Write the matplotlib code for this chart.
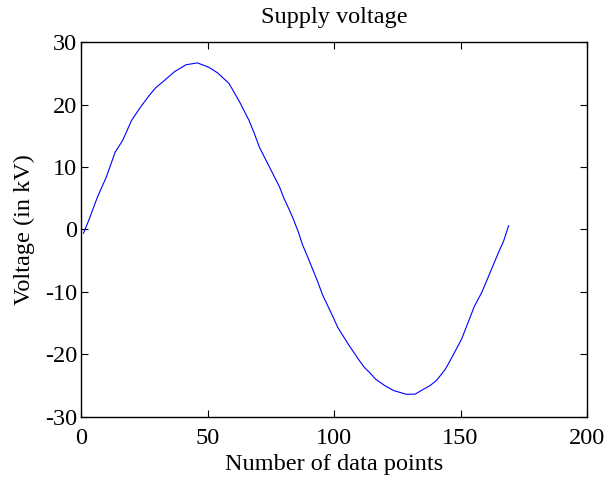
import matplotlib
matplotlib.use('Agg')
import matplotlib.pyplot as plt

# sample index and measured supply voltage (kV)
muestra = [1, 3, 6.5, 10, 13.5, 16.5, 20, 23.5, 27, 29.5, 33, 37, 41.5, 46,
           50.5, 54, 58.5, 60.5, 63, 64.5, 66.5, 68.5, 70.5, 72.5, 74.5, 76.5,
           78.5, 80, 82.5, 84, 86, 87.5, 89.5, 91.5, 93.5, 95.5, 97.5, 99.5,
           101.5, 103.5, 106, 108, 110, 112, 114, 116.5, 120, 123.5, 128.5,
           132, 134.5, 138, 140.5, 144, 147, 150.5, 153, 155.5, 158.5, 161.5,
           165, 167, 169]
voltaje = [-0.6, 1.4, 5.2, 8.4, 12.4, 14.3, 17.5, 19.6, 21.5, 22.7, 23.9, 25.3,
           26.4, 26.7, 26.0, 25.1, 23.4, 22.0, 20.2, 19.0, 17.4, 15.4, 13.2,
           11.6, 10.0, 8.4, 6.8, 5.2, 3.0, 1.6, -0.5, -2.4, -4.3, -6.3, -8.3,
           -10.5, -12.2, -13.9, -15.7, -17.0, -18.6, -19.8, -21.0, -22.1, -22.9,
           -24.0, -25.0, -25.8, -26.4, -26.4, -25.8, -25.0, -24.2, -22.4, -20.2,
           -17.5, -14.9, -12.3, -10.0, -7.1, -3.7, -1.9, 0.6]

xticks = [0, 50, 100, 150, 200]
yticks = [-30, -20, -10, 0, 10, 20, 30]

plt.rcParams['font.family'] = ['Liberation Serif', 'DejaVu Serif']
plt.rcParams['axes.unicode_minus'] = False

fig = plt.figure(figsize=(6.1, 4.8), dpi=100)
ax = fig.add_axes([81 / 610, 1 - 416.7 / 480, 506 / 610, 374.4 / 480])
ax.plot(muestra, voltaje, color='#0000ff', linewidth=0.8)

ax.set_xlim(0, 200)
ax.set_ylim(-30, 30)
ax.set_xticks(xticks)
ax.set_yticks(yticks)
ax.tick_params(direction='in', length=5, width=0.8, top=True, right=True,
               labelsize=17.5)
ax.tick_params(axis='x', pad=8)
ax.tick_params(axis='y', pad=2.7)
for s in ax.spines.values():
    s.set_linewidth(1.0)

ax.set_title('Supply voltage', fontsize=17.5, pad=14)
ax.set_xlabel('Number of data points', fontsize=17.5)
ax.set_ylabel('Voltage (in kV)', fontsize=17.5)
ax.xaxis.set_label_coords(0.5, -0.1)
ax.yaxis.set_label_coords(-0.091, 0.5)

fig.savefig('out.png', dpi=100)
